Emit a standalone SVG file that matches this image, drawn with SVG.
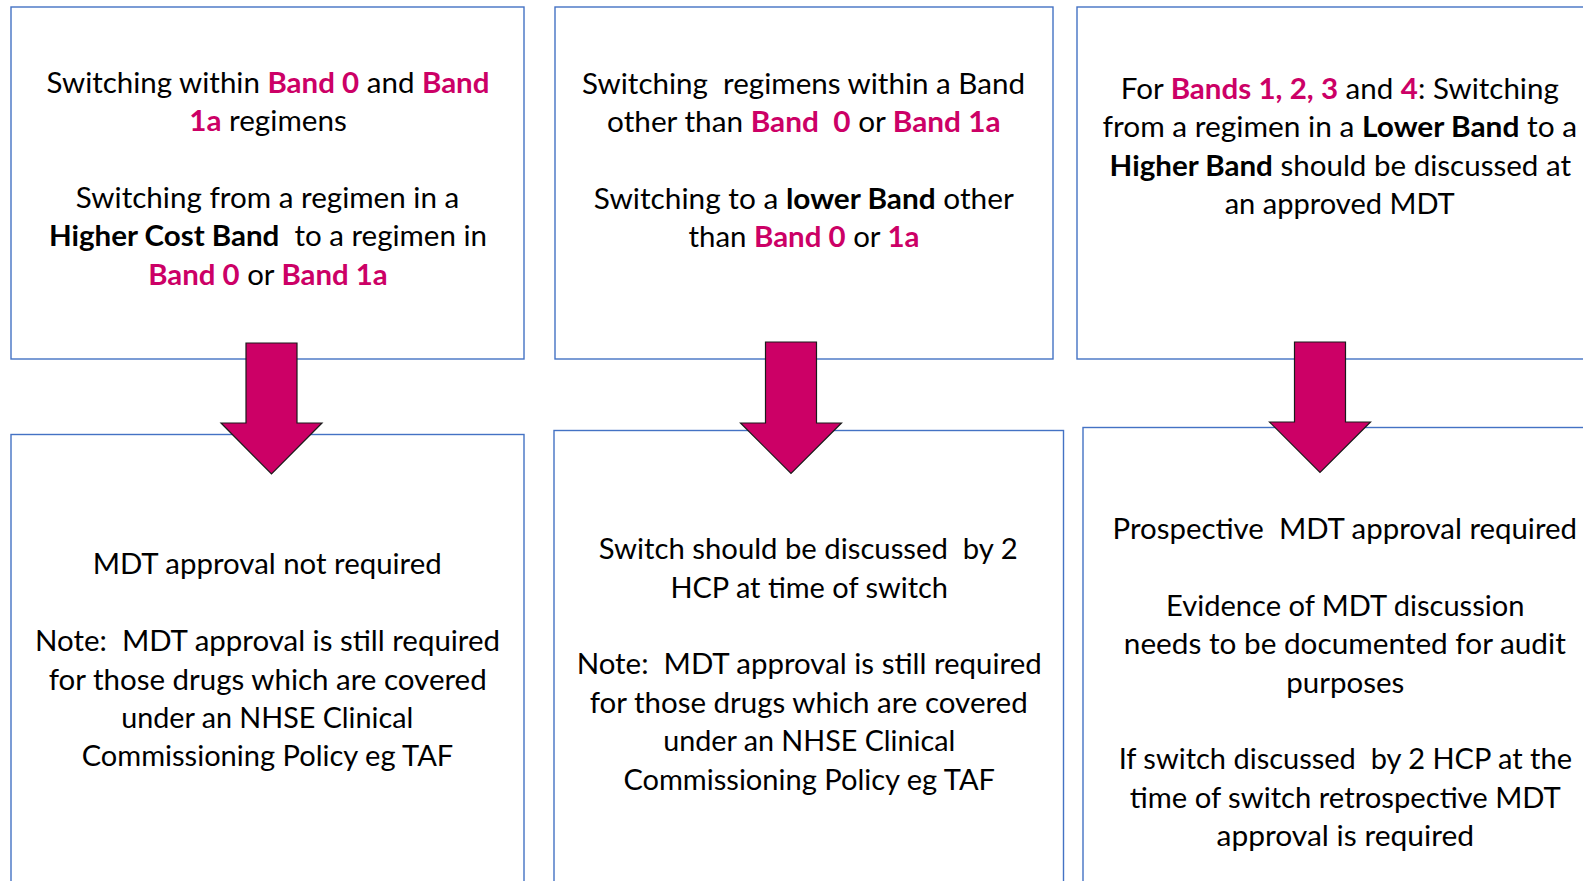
<svg xmlns="http://www.w3.org/2000/svg" width="1583" height="881" viewBox="0 0 1583 881">
  <style>
    .box { fill: #ffffff; stroke: #4472C4; stroke-width: 1.4; }
    .arrow { fill: #CC0066; stroke: #1a1a1a; stroke-width: 1.2; stroke-linejoin: miter; }
    text { font-family: Lato, "Liberation Sans", sans-serif; font-size: 29px; fill: #000000; text-anchor: middle; white-space: pre; }
    .b { font-weight: 700; }
    .p { font-weight: 700; fill: #CC0066; }
  </style>
  <rect x="0" y="0" width="1583" height="881" fill="#ffffff"/>

  <!-- Top row: switching scenarios -->
  <g id="band0-1a">
    <rect class="box" x="11" y="7" width="513" height="352"/>
    <text xml:space="preserve" x="268" y="92.7" textLength="443" lengthAdjust="spacingAndGlyphs">Switching within <tspan class="p">Band 0</tspan> and <tspan class="p">Band</tspan></text>
    <text xml:space="preserve" x="268" y="131.1" textLength="157.5" lengthAdjust="spacingAndGlyphs"><tspan class="p">1a</tspan> regimens</text>
    <text xml:space="preserve" x="267.5" y="207.9" textLength="383.5" lengthAdjust="spacingAndGlyphs">Switching from a regimen in a</text>
    <text xml:space="preserve" x="268" y="246.3" textLength="438" lengthAdjust="spacingAndGlyphs"><tspan class="b">Higher Cost Band</tspan>  to a regimen in</text>
    <text xml:space="preserve" x="268" y="284.7" textLength="239.5" lengthAdjust="spacingAndGlyphs"><tspan class="p">Band 0</tspan> or <tspan class="p">Band 1a</tspan></text>
  </g>

  <g id="other-band">
    <rect class="box" x="555" y="7" width="498" height="352"/>
    <text xml:space="preserve" x="803.5" y="93.8" textLength="443" lengthAdjust="spacingAndGlyphs">Switching  regimens within a Band</text>
    <text xml:space="preserve" x="803.8" y="132.2" textLength="393.5" lengthAdjust="spacingAndGlyphs">other than <tspan class="p">Band  0</tspan> or <tspan class="p">Band 1a</tspan></text>
    <text xml:space="preserve" x="803.8" y="209" textLength="420" lengthAdjust="spacingAndGlyphs">Switching to a <tspan class="b">lower Band</tspan> other</text>
    <text xml:space="preserve" x="804" y="247.4" textLength="231" lengthAdjust="spacingAndGlyphs">than <tspan class="p">Band 0</tspan> or <tspan class="p">1a</tspan></text>
  </g>

  <g id="higher-band">
    <rect class="box" x="1077" y="7" width="530" height="352"/>
    <text xml:space="preserve" x="1339.8" y="98.8" textLength="438" lengthAdjust="spacingAndGlyphs">For <tspan class="p">Bands 1, 2, 3</tspan> and <tspan class="p">4</tspan>: Switching</text>
    <text xml:space="preserve" x="1339.8" y="137.2" textLength="474.5" lengthAdjust="spacingAndGlyphs">from a regimen in a <tspan class="b">Lower Band</tspan> to a</text>
    <text xml:space="preserve" x="1340.3" y="175.6" textLength="461.4" lengthAdjust="spacingAndGlyphs"><tspan class="b">Higher Band</tspan> should be discussed at</text>
    <text xml:space="preserve" x="1339.7" y="214" textLength="230" lengthAdjust="spacingAndGlyphs">an approved MDT</text>
  </g>

  <!-- Bottom row: approval requirements -->
  <g id="no-mdt">
    <rect class="box" x="11" y="434.5" width="513" height="470"/>
    <text xml:space="preserve" x="267.2" y="574.3" textLength="349" lengthAdjust="spacingAndGlyphs">MDT approval not required</text>
    <text xml:space="preserve" x="267.5" y="651.1" textLength="465" lengthAdjust="spacingAndGlyphs">Note:  MDT approval is still required</text>
    <text xml:space="preserve" x="267.7" y="689.5" textLength="438" lengthAdjust="spacingAndGlyphs">for those drugs which are covered</text>
    <text xml:space="preserve" x="267.2" y="727.9" textLength="292" lengthAdjust="spacingAndGlyphs">under an NHSE Clinical</text>
    <text xml:space="preserve" x="267.5" y="766.3" textLength="371.6" lengthAdjust="spacingAndGlyphs">Commissioning Policy eg TAF</text>
  </g>

  <g id="two-hcp">
    <rect class="box" x="554" y="430.5" width="509.5" height="470"/>
    <text xml:space="preserve" x="808.2" y="559.2" textLength="419" lengthAdjust="spacingAndGlyphs">Switch should be discussed  by 2</text>
    <text xml:space="preserve" x="809.2" y="597.6" textLength="277.6" lengthAdjust="spacingAndGlyphs">HCP at time of switch</text>
    <text xml:space="preserve" x="809.2" y="674.4" textLength="465" lengthAdjust="spacingAndGlyphs">Note:  MDT approval is still required</text>
    <text xml:space="preserve" x="808.7" y="712.8" textLength="438" lengthAdjust="spacingAndGlyphs">for those drugs which are covered</text>
    <text xml:space="preserve" x="809.2" y="751.2" textLength="292" lengthAdjust="spacingAndGlyphs">under an NHSE Clinical</text>
    <text xml:space="preserve" x="809.2" y="789.6" textLength="371.6" lengthAdjust="spacingAndGlyphs">Commissioning Policy eg TAF</text>
  </g>

  <g id="prospective-mdt">
    <rect class="box" x="1083" y="427.5" width="530" height="470"/>
    <text xml:space="preserve" x="1344.8" y="539" textLength="464.4" lengthAdjust="spacingAndGlyphs">Prospective  MDT approval required</text>
    <text xml:space="preserve" x="1345.3" y="615.8" textLength="358.4" lengthAdjust="spacingAndGlyphs">Evidence of MDT discussion</text>
    <text xml:space="preserve" x="1344.8" y="654.2" textLength="442" lengthAdjust="spacingAndGlyphs">needs to be documented for audit</text>
    <text xml:space="preserve" x="1345.3" y="692.6" textLength="118" lengthAdjust="spacingAndGlyphs">purposes</text>
    <text xml:space="preserve" x="1345.3" y="769.4" textLength="453.3" lengthAdjust="spacingAndGlyphs">If switch discussed  by 2 HCP at the</text>
    <text xml:space="preserve" x="1345.3" y="807.8" textLength="431" lengthAdjust="spacingAndGlyphs">time of switch retrospective MDT</text>
    <text xml:space="preserve" x="1345.3" y="846.2" textLength="257.4" lengthAdjust="spacingAndGlyphs">approval is required</text>
  </g>

  <!-- Block arrows linking each scenario to its requirement -->
  <g id="connectors">
    <path class="arrow" d="M246,343 H297 V423 H322 L271.5,474 L221,423 H246 Z"/>
    <path class="arrow" d="M765.5,342 H816.5 V423 H841.5 L791,473.5 L740.5,423 H765.5 Z"/>
    <path class="arrow" d="M1294.5,342 H1345.5 V422 H1370.5 L1320,472.5 L1269.5,422 H1294.5 Z"/>
  </g>
</svg>
